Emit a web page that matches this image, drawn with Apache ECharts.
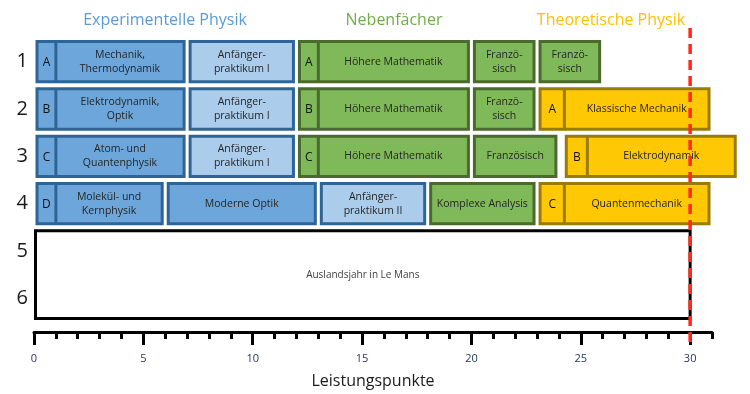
<!DOCTYPE html>
<html>
<head>
<meta charset="utf-8">
<script src="https://cdn.jsdelivr.net/npm/echarts@6/dist/echarts.min.js"></script>
<style>html,body{margin:0;padding:0;background:#fff;}#c{width:750px;height:394px;}</style>
</head>
<body>
<div id="c"></div>
<script>
// ---- data ----
const rowLabels = ['1', '2', '3', '4', '5', '6'];
const majorTicks = [0, 5, 10, 15, 20, 25, 30];
const minorTicks = [0,1,2,3,4,5,6,7,8,9,10,11,12,13,14,15,16,17,18,19,20,21,22,23,24,25,26,27,28,29,30,31];
const creditLimit = 30;

const boxRowFrom = [0,0,0,0,0, 1,1,1,1,1, 2,2,2,2,2, 3,3,3,3,3, 4];
const boxRowTo   = [0,0,0,0,0, 1,1,1,1,1, 2,2,2,2,2, 3,3,3,3,3, 5];
const boxStart   = [0,7,12,20,23, 0,7,12,20,23, 0,7,12,20,24.2, 0,6,13,18,23, 0];
const boxEnd     = [7,12,20,23,26, 7,12,20,23,31, 7,12,20,24,32.2, 6,13,18,23,31, 30];
const boxDivider = [1,null,13,null,null, 1,null,13,null,24.25, 1,null,13,null,25.3, 1,null,null,null,24.25, null];
const boxPrefix  = ['A','','A','','', 'B','','B','','A', 'C','','C','','B', 'D','','','','C', ''];
const boxLabel = [
  'Mechanik,\nThermodynamik', 'Anfänger-\npraktikum I', 'Höhere Mathematik', 'Franzö-\nsisch', 'Franzö-\nsisch',
  'Elektrodynamik,\nOptik', 'Anfänger-\npraktikum I', 'Höhere Mathematik', 'Franzö-\nsisch', 'Klassische Mechanik',
  'Atom- und\nQuantenphysik', 'Anfänger-\npraktikum I', 'Höhere Mathematik', 'Französisch', 'Elektrodynamik',
  'Molekül- und\nKernphysik', 'Moderne Optik', 'Anfänger-\npraktikum II', 'Komplexe Analysis', 'Quantenmechanik',
  'Auslandsjahr in Le Mans'
];
const boxGroup = [
  'blue','light','green','green','green',
  'blue','light','green','green','yellow',
  'blue','light','green','green','yellow',
  'blue','blue','light','green','yellow',
  'white'
];
const headers = ['Experimentelle Physik', 'Nebenfächer', 'Theoretische Physik'];

// ---- styles ----
const groupStyle = {
  blue:   { fill: '#6ca6da', stroke: '#2f6596' },
  light:  { fill: '#abcdeb', stroke: '#2f6596' },
  green:  { fill: '#7fb959', stroke: '#4b6a2e' },
  yellow: { fill: '#ffc805', stroke: '#9a7b06' },
  white:  { fill: '#ffffff', stroke: '#000000' }
};
const FONT = '"Open Sans", "DejaVu Sans", sans-serif';

const chart = echarts.init(document.getElementById('c'), null, { renderer: 'canvas' });

const boxData = boxStart.map((s, i) => [s, boxEnd[i], boxRowFrom[i], boxRowTo[i], i]);

function renderBox(params, api) {
  const i = api.value(4);
  const p0 = api.coord([api.value(0), api.value(2)]);
  const p1 = api.coord([api.value(1), api.value(3)]);
  const band = api.size([0, 1])[1];
  const isWhite = boxGroup[i] === 'white';
  const x0 = p0[0] + (isWhite ? 1.5 : 3), x1 = p1[0] - (isWhite ? 0 : 3);
  const y0 = p0[1] - band / 2 + 3.5, y1 = p1[1] + band / 2 - 3.5;
  const st = groupStyle[boxGroup[i]];
  const children = [{
    type: 'rect',
    shape: { x: x0, y: y0, width: x1 - x0, height: y1 - y0 },
    style: { fill: st.fill, stroke: st.stroke, lineWidth: 3 }
  }];
  let labelLeft = x0;
  const cy = (y0 + y1) / 2;
  if (boxDivider[i] != null) {
    const dx = api.coord([boxDivider[i], 0])[0];
    children.push({
      type: 'line',
      shape: { x1: dx, y1: y0, x2: dx, y2: y1 },
      style: { stroke: st.stroke, lineWidth: 3 }
    });
    children.push({
      type: 'text',
      style: { text: boxPrefix[i], x: (x0 + dx) / 2, y: cy + 1, align: 'center', verticalAlign: 'middle',
               font: '12px ' + FONT, fill: '#111' }
    });
    labelLeft = dx;
  }
  children.push({
    type: 'text',
    style: { text: boxLabel[i], x: (labelLeft + x1) / 2, y: cy, align: 'center', verticalAlign: 'middle',
             font: (isWhite ? '10px ' : '10.5px ') + FONT, lineHeight: 14, fill: isWhite ? '#404040' : '#262626' }
  });
  return { type: 'group', children };
}

function renderLimit(params, api) {
  const x = api.coord([api.value(0), 0])[0];
  const cs = params.coordSys;
  return {
    type: 'line',
    shape: { x1: x, y1: cs.y - 10, x2: x, y2: cs.y + cs.height + 25 },
    style: { stroke: '#ff2a1a', lineWidth: 3.5, lineDash: [10, 6] }
  };
}

const option = {
  backgroundColor: '#ffffff',
  animation: false,
  grid: { left: 34, top: 38, width: 678, height: 284, containLabel: false },
  xAxis: [
    {
      type: 'value', min: 0, max: 31, position: 'bottom', offset: 10,
      name: 'Leistungspunkte', nameLocation: 'middle', nameGap: 41,
      nameTextStyle: { fontFamily: FONT, fontSize: 16, color: '#1a1a1a' },
      axisLine: { show: true, lineStyle: { color: '#000', width: 3 } },
      axisTick: { show: true, customValues: majorTicks, length: 13, lineStyle: { color: '#000', width: 3 } },
      axisLabel: { show: true, customValues: majorTicks, margin: 21, fontFamily: FONT, fontSize: 11, color: '#25385a' },
      splitLine: { show: false }
    },
    {
      type: 'value', min: 0, max: 31, position: 'bottom', offset: 10,
      axisLine: { show: false },
      axisTick: { show: true, customValues: minorTicks, length: 7, lineStyle: { color: '#000', width: 3 } },
      axisLabel: { show: false },
      splitLine: { show: false }
    }
  ],
  yAxis: {
    type: 'category', data: rowLabels, inverse: true,
    axisLine: { show: false }, axisTick: { show: false }, splitLine: { show: false },
    axisLabel: { fontFamily: FONT, fontSize: 20, color: '#1a1a1a', margin: 6 }
  },
  graphic: [
    { type: 'text', x: 165, y: 20, style: { text: headers[0], align: 'center', verticalAlign: 'middle', font: '16px ' + FONT, fill: '#5b9bd5' } },
    { type: 'text', x: 394, y: 20, style: { text: headers[1], align: 'center', verticalAlign: 'middle', font: '16px ' + FONT, fill: '#70ad47' } },
    { type: 'text', x: 611, y: 20, style: { text: headers[2], align: 'center', verticalAlign: 'middle', font: '16px ' + FONT, fill: '#ffc000' } }
  ],
  series: [
    {
      type: 'custom', xAxisIndex: 0, yAxisIndex: 0, clip: false,
      renderItem: renderBox, data: boxData,
      encode: { x: [0, 1], y: [2, 3] }, z: 2
    },
    {
      type: 'custom', xAxisIndex: 0, yAxisIndex: 0, clip: false,
      renderItem: renderLimit, data: [[creditLimit, 0]],
      encode: { x: 0, y: 1 }, z: 10
    }
  ]
};
chart.setOption(option);
</script>
</body>
</html>
